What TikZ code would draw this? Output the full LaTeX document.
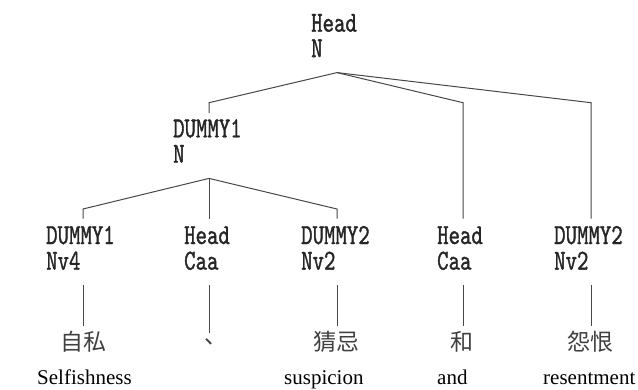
\documentclass[tikz,border=0pt]{standalone}
\usepackage{fontspec}
\setmainfont{Liberation Serif}
\newfontfamily\labelfont{lmmono10-regular.otf}[FakeStretch=0.75,FakeBold=1.2]
\newfontfamily\cjkfont{Noto Sans CJK TC}
% two-line tag, first baseline at the node's base
\newcommand\tagpair[2]{\begin{tabular}[t]{@{}l@{}}#1\\#2\end{tabular}}
\begin{document}
\begin{tikzpicture}[x=1pt,y=-1pt,
  branch/.style={draw=black!72, line width=1pt},
  tag/.style={anchor=base west, inner sep=0pt, text=black!85,
    font=\labelfont\fontsize{29}{25.4}\selectfont},
  hanzi/.style={anchor=base, inner sep=0pt, outer ysep=4.8pt, text=black!75,
    font=\cjkfont\fontsize{23}{23}\selectfont},
  gloss/.style={anchor=base west, inner sep=0pt, font=\fontsize{21}{21}\selectfont}]
\useasboundingbox (0,0) rectangle (638,389);

% category tags
\node[tag] (root) at (311,31.7)  {\tagpair{Head}{N}};
\node[tag] (dm)   at (173,137.3) {\tagpair{DUMMY1}{N}};
\node[tag] (t1)   at (46,244)    {\tagpair{DUMMY1}{Nv4}};
\node[tag] (t2)   at (184,244)   {\tagpair{Head}{Caa}};
\node[tag] (t3)   at (301,244)   {\tagpair{DUMMY2}{Nv2}};
\node[tag] (t4)   at (437,244)   {\tagpair{Head}{Caa}};
\node[tag] (t5)   at (554,244)   {\tagpair{DUMMY2}{Nv2}};

% words
\node[hanzi] (w1) at (83,350)  {自私};
\node[hanzi] (w2) at (209,350) {、};
\node[hanzi] (w3) at (336,350) {猜忌};
\node[hanzi] (w4) at (462,350) {和};
\node[hanzi] (w5) at (590,350) {怨恨};

% glosses
\node[gloss] (g1) at (37,384.5)  {Selfishness};
\node[gloss] (g3) at (284,384.5) {suspicion};
\node[gloss] (g4) at (437,384.5) {and};
\node[gloss] (g5) at (543,384.5) {resentment};

% branching points and stub ends
\coordinate (rfork) at (337,72.6);
\coordinate (dfork) at (209,178.4);
\coordinate (bar1) at (0,102.7);
\coordinate (bar2) at (0,209);
\coordinate (dmin) at (209,113);
\foreach \i/\x in {1/83,2/209,3/337,4/463,5/591}{
  \coordinate (up\i) at (\x,218.5);
  \coordinate (lo\i) at (\x,285);
}

% upper tree
\draw[branch] (rfork) -- (dmin |- bar1) -- (dmin);
\draw[branch] (rfork) -- (up4 |- bar1) -- (up4);
\draw[branch] (rfork) -- (up5 |- bar1) -- (up5);
\draw[branch] (dfork) -- (up1 |- bar2) -- (up1);
\draw[branch] (dfork) -- (up2);
\draw[branch] (dfork) -- (up3 |- bar2) -- (up3);

% tags to words
\foreach \i in {1,...,5}{
  \draw[branch] (lo\i) -- (lo\i |- w\i.north);
}
\end{tikzpicture}
\end{document}
